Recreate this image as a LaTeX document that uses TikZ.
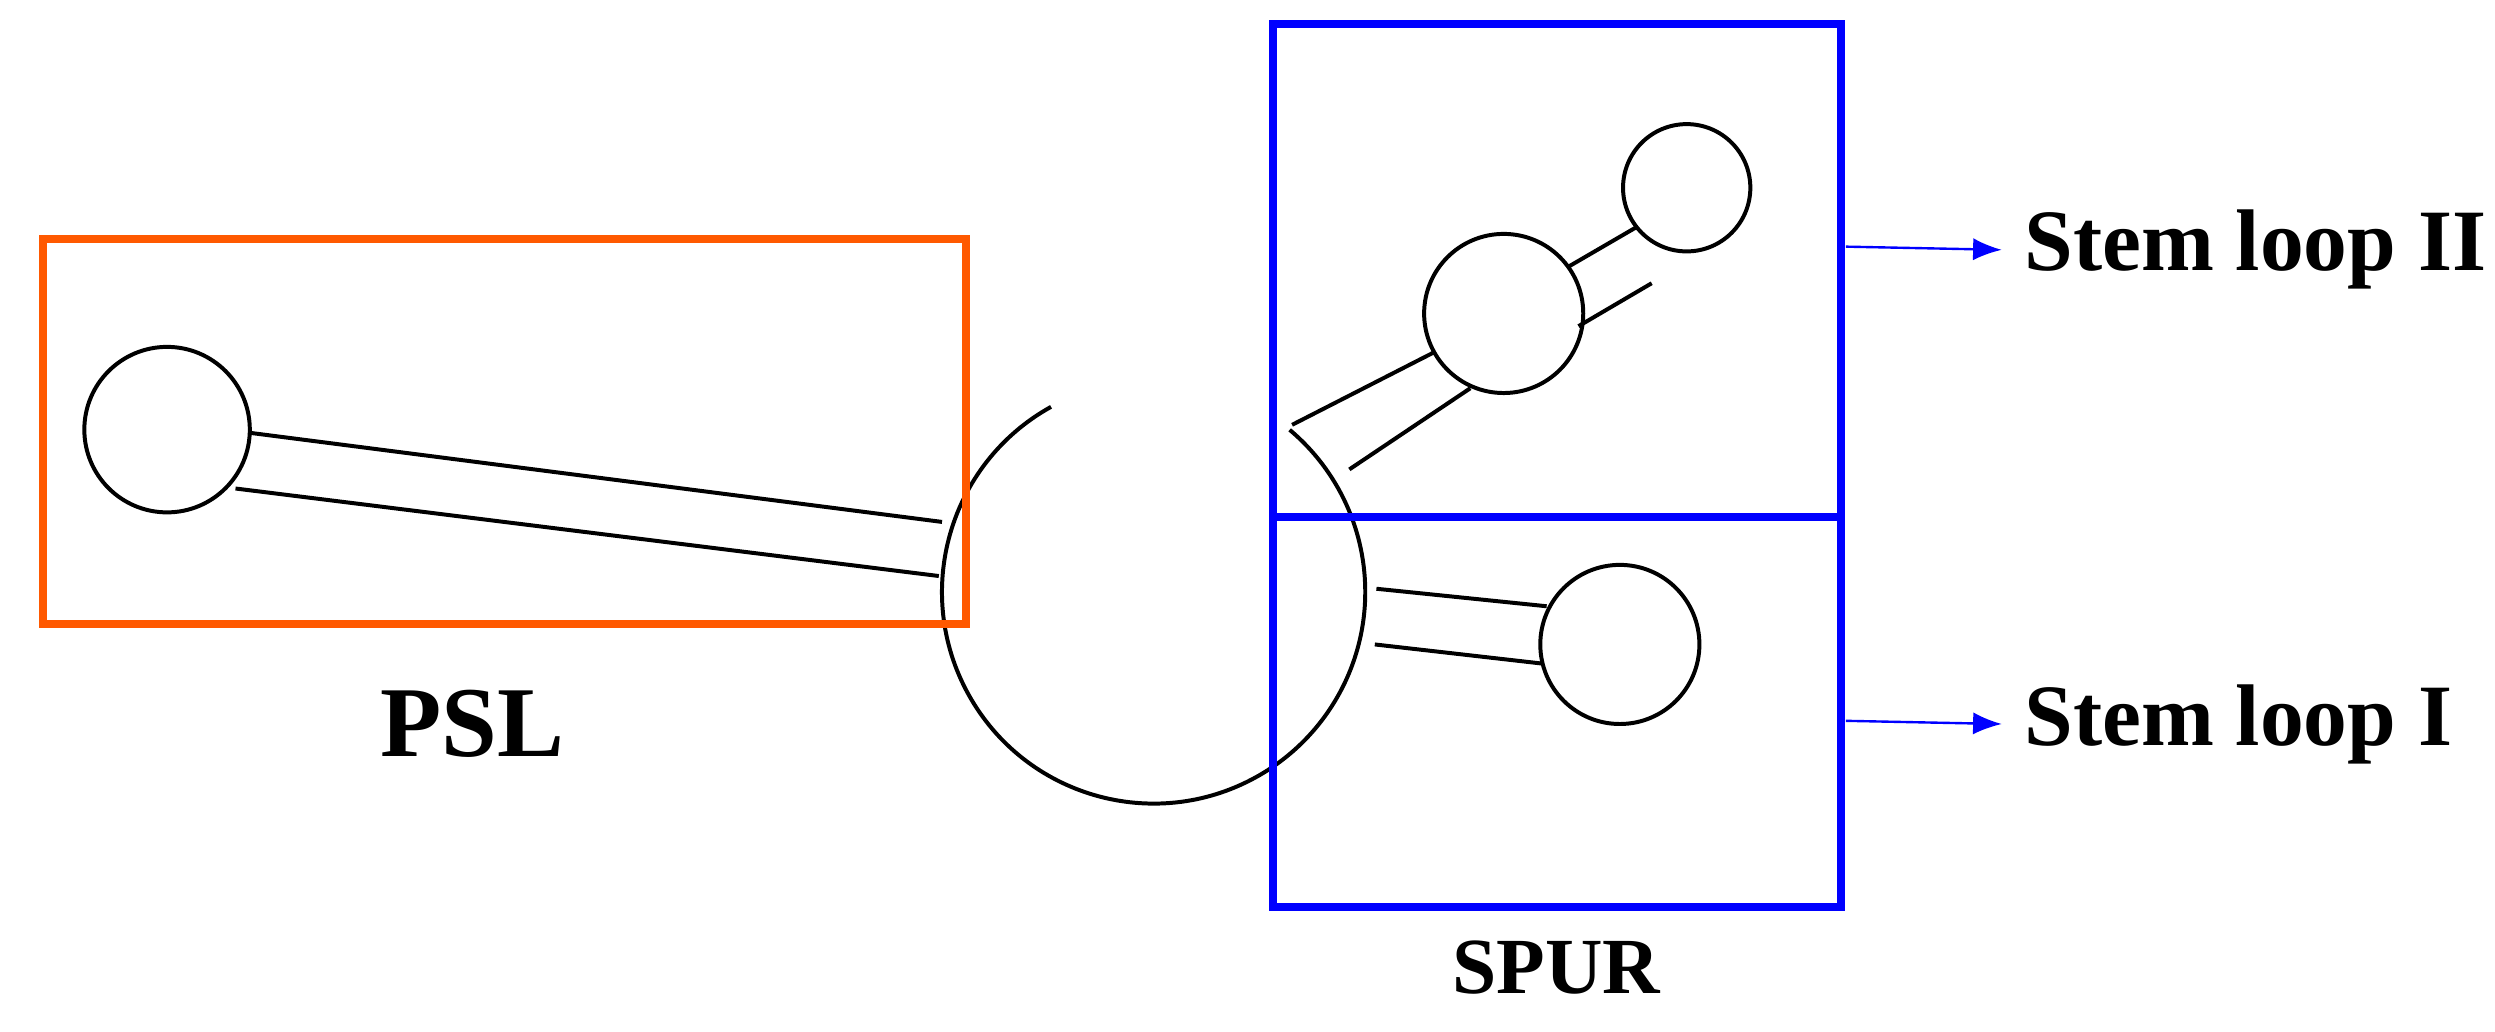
\documentclass[tikz,border=0pt]{standalone}
\usepackage{fontspec}
\usetikzlibrary{arrows.meta}
\setmainfont{Liberation Serif}
\begin{document}
\begin{tikzpicture}[x=1pt,y=-1pt,
  ln/.style={line width=2.5pt,black},
  orbox/.style={draw=orange!70!red,line width=5pt},
  blbox/.style={draw=blue,line width=5pt},
  lab/.style={font=\bfseries\fontsize{55}{60}\selectfont,anchor=west,inner sep=0pt}]
\useasboundingbox (0,0) rectangle (1568,648);
% PSL
\node[ln,draw,circle,minimum size=104pt,inner sep=0pt] (c1) at (105,270) {};
\draw[ln] (157,272) -- (592,328);
\draw[ln] (148,307) -- (590,362);
% central loop
\draw[ln] (725,372) ++(-119:133) arc[start angle=-119,end angle=-410,radius=133];
% stem II
\node[ln,draw,circle,minimum size=100pt,inner sep=0pt] (c2) at (945,197) {};
\node[ln,draw,circle,minimum size=80pt,inner sep=0pt] (c3) at (1060,118) {};
\draw[ln] (812,267) -- (902,221);
\draw[ln] (848,295) -- (924,244);
\draw[ln] (985,168) -- (1028,143);
\draw[ln] (992,205) -- (1038,178);
% stem I
\node[ln,draw,circle,minimum size=100pt,inner sep=0pt] (c4) at (1018,405) {};
\draw[ln] (865,370) -- (972,381);
\draw[ln] (864,405) -- (969,417);
% boxes
\draw[orbox] (27,150) rectangle (607,392);
\draw[blbox] (800,15) rectangle (1157,325);
\draw[blbox] (800,325) rectangle (1157,570);
% arrows and labels
\node[lab] (s2) at (1272,157) {Stem loop II};
\node[lab] (s1) at (1272,455) {Stem loop I};
\coordinate (a2) at (1160,155);
\coordinate (a1) at (1160,453);
\draw[blue,line width=1.5pt,-{Latex[length=18pt,width=14pt]}] (a2) -- ([xshift=-14pt]s2.west);
\draw[blue,line width=1.5pt,-{Latex[length=18pt,width=14pt]}] (a1) -- ([xshift=-14pt]s1.west);
\node[font=\bfseries\fontsize{63}{66}\selectfont] (psl) at (297,455) {PSL};
\node[font=\bfseries\fontsize{50}{54}\selectfont] (spur) at (978,608) {SPUR};
\end{tikzpicture}
\end{document}
